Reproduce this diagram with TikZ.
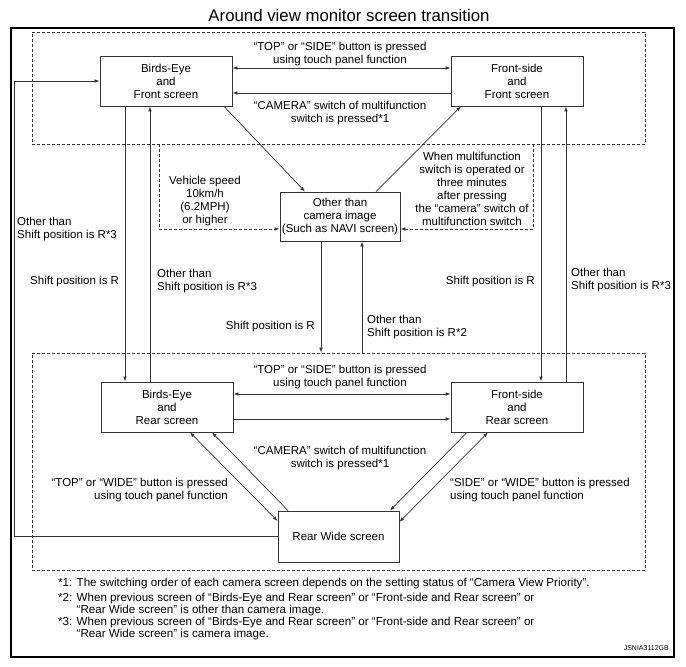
\documentclass[tikz,border=0pt]{standalone}
\usepackage{fontspec}
\setmainfont{Liberation Sans}
\usetikzlibrary{arrows.meta,calc}
\definecolor{linec}{gray}{0.2}
\newcommand\myBody{\fontsize{11.5}{13}\selectfont}
\newcommand\myFoot{\fontsize{11.6}{12}\selectfont}
\newcommand\myTitle{\fontsize{16.8}{18}\selectfont}
\newcommand\myTiny{\fontsize{7}{8}\selectfont}
\tikzset{
  box/.style={draw=linec, line width=0.8pt, minimum width=132pt, minimum height=50pt, inner sep=0pt, align=center, font=\myBody},
  grp/.style={draw=linec, line width=0.7pt, dash pattern=on 3pt off 2pt, inner sep=0pt},
  frame/.style={draw=black, line width=2pt, inner sep=0pt},
  conn/.style={draw=linec, line width=0.7pt},
  dashpat/.style={dash pattern=on 3pt off 2pt},
  arr/.style={-{Latex[length=5pt,width=3.6pt]}},
  darr/.style={{Latex[length=5pt,width=3.6pt]}-{Latex[length=5pt,width=3.6pt]}},
  lbl/.style={inner sep=0pt, align=center, font=\myBody},
}
\begin{document}
\begin{tikzpicture}[x=1pt,y=-1pt]
\useasboundingbox (0,0) rectangle (686,667);
\node[font=\myTitle, inner sep=0pt] (title) at (349,15) {Around view monitor screen transition};
\node[frame, minimum width=663.5pt, minimum height=629pt] (outer) at (342.25,342.5) {};
\node[grp, minimum width=613pt, minimum height=112pt] (topgrp) at (338.5,88) {};
\node[grp, minimum width=613pt, minimum height=217pt] (botgrp) at (338.5,461.5) {};

\node[box] (BEF) at (166,81) {\strut Birds-Eye\\and\\Front screen};
\node[box] (FSF) at (517,81) {\strut Front-side\\and\\Front screen};
\node[box, minimum width=120pt, minimum height=49pt] (MID) at (340,216.5) {Other than\\camera image\\(Such as NAVI screen)};
\node[box] (BER) at (167,407) {\strut Birds-Eye\\and\\Rear screen};
\node[box] (FSR) at (517,407) {\strut Front-side\\and\\Rear screen};
\node[box, minimum width=121pt, minimum height=51pt] (RW) at (338.5,536.5) {Rear Wide screen};

% top row
\draw[conn,darr] ([yshift=13pt]BEF.east) -- ([yshift=13pt]FSF.west);
\draw[conn,arr] ([yshift=-12pt]FSF.west) -- ([yshift=-12pt]BEF.east);
% bottom row
\draw[conn,darr] ([yshift=13pt]BER.east) -- ([yshift=13pt]FSR.west);
\draw[conn,arr] ([yshift=-12pt]BER.east) -- ([yshift=-12pt]FSR.west);
% verticals
\draw[conn,arr] ([xshift=-41pt]BEF.south) -- ([xshift=-41pt]BEF.south |- BER.north);
\draw[conn,arr] ([xshift=-16pt]BEF.south |- BER.north) -- ([xshift=-16pt]BEF.south);
\draw[conn,arr] ([xshift=24pt]FSF.south) -- ([xshift=24pt]FSF.south |- FSR.north);
\draw[conn,arr] ([xshift=49pt]FSF.south |- FSR.north) -- ([xshift=49pt]FSF.south);
\draw[conn,arr] ([xshift=-19pt]MID.south) -- ([xshift=-19pt]MID.south |- botgrp.north);
\draw[conn,arr] ([xshift=22pt]MID.south |- botgrp.north) -- ([xshift=22pt]MID.south);
% top diagonals
\draw[conn,arr] ([xshift=58pt]BEF.south) -- ([xshift=-35pt]MID.north);
\draw[conn,arr] ([xshift=36pt]MID.north) -- ([xshift=-56pt]FSF.south);
% dashed connectors
\coordinate (dlx) at (159,0);
\coordinate (drx) at (533,0);
\draw[conn,dashpat,arr] (dlx |- topgrp.south) |- ([yshift=-12.5pt]MID.west);
\draw[conn,dashpat,arr] (drx |- topgrp.south) |- ([yshift=-12.5pt]MID.east);
% feedback
\draw[conn,arr] (RW.west) -| ([xshift=-85pt]BEF.west) -- (BEF.west);
% bottom diagonals
\draw[conn,darr] ([xshift=23pt]BER.south) -- ([yshift=15.5pt]RW.west);
\draw[conn,arr] ([xshift=-50.5pt]RW.north) -- ([xshift=45pt]BER.south);
\draw[conn,darr] ([xshift=-29pt]FSR.south) -- ([yshift=14.5pt]RW.east);
\draw[conn,arr] ([xshift=-50pt]FSR.south) -- ([xshift=51.5pt]RW.north);

% labels
\node[lbl] (l1) at (340,54) {“TOP” or “SIDE” button is pressed\\using touch panel function};
\node[lbl] (l2) at (340,113.5) {“CAMERA” switch of multifunction\\switch is pressed*1};
\node[lbl] (l3) at (205,201.5) {Vehicle speed\\10km/h\\(6.2MPH)\\or higher};
\node[lbl] (l4) at (472,189) {When multifunction\\switch is operated or\\three minutes\\after pressing\\the “camera” switch of\\multifunction switch};
\node[lbl,anchor=west,align=left] (l5) at (17,229.5) {Other than\\Shift position is R*3};
\node[lbl,anchor=west] (l6) at (30,282) {Shift position is R};
\node[lbl,anchor=west,align=left] (l7) at (157,281) {Other than\\Shift position is R*3};
\node[lbl,anchor=east] (l8) at (315,327) {Shift position is R};
\node[lbl,anchor=west,align=left] (l9) at (367,327) {Other than\\Shift position is R*2};
\node[lbl,anchor=east] (l10) at (535,282) {Shift position is R};
\node[lbl,anchor=west,align=left] (l11) at (571,280) {Other than\\Shift position is R*3};
\node[lbl] (l12) at (340,377) {“TOP” or “SIDE” button is pressed\\using touch panel function};
\node[lbl] (l13) at (340,458.5) {“CAMERA” switch of multifunction\\switch is pressed*1};
\node[lbl,anchor=east,align=right] (l14) at (228,490) {“TOP” or “WIDE” button is pressed\\using touch panel function};
\node[lbl,anchor=west,align=left] (l15) at (450,490) {“SIDE” or “WIDE” button is pressed\\using touch panel function};

% footnotes
\node[lbl,font=\myFoot,anchor=west] (f1) at (58,583) {*1: The switching order of each camera screen depends on the setting status of “Camera View Priority”.};
\node[lbl,font=\myFoot,anchor=west,align=left] (f2) at (58,604) {*2: When previous screen of “Birds-Eye and Rear screen” or “Front-side and Rear screen” or\\\hphantom{*2: }“Rear Wide screen” is other than camera image.};
\node[lbl,font=\myFoot,anchor=west,align=left] (f3) at (58,628.5) {*3: When previous screen of “Birds-Eye and Rear screen” or “Front-side and Rear screen” or\\\hphantom{*3: }“Rear Wide screen” is camera image.};
\node[lbl,font=\myTiny,anchor=east] (code) at (669,648) {JSNIA3112GB};
\end{tikzpicture}
\end{document}
